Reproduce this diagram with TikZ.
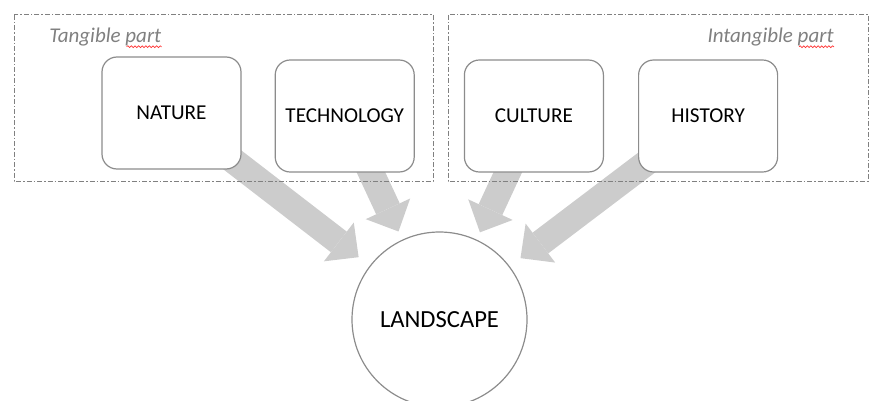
\documentclass[tikz,border=0pt]{standalone}
\usepackage{fontspec}
\setmainfont{Carlito}
\usetikzlibrary{positioning,arrows.meta,backgrounds,decorations.pathmorphing}

\tikzset{
    partbox/.style={draw=black!45, line width=0.6pt, fill=white, rounded corners=7.5pt,
        minimum width=69.5pt, minimum height=56pt, inner sep=0pt, font=\fontsize{10.6}{12}\selectfont},
    partframe/.style={draw=black!50, line width=0.5pt,
        dash pattern=on 2.5pt off 1pt on 0.75pt off 1pt},
    parttext/.style={inner sep=0pt, text=black!50, font=\fontsize{10.5}{12}\selectfont\itshape},
    bigarrow/.style={draw=black!20, line width=13pt,
        -{Triangle[length=12.5pt, width=24.5pt, line width=0pt]}},
    squiggle/.style={draw=red!80, line width=0.35pt,
        decorate, decoration={snake, amplitude=0.45pt, segment length=1.8pt}}
}

\begin{document}
\begin{tikzpicture}
    \useasboundingbox (0pt,0pt) rectangle (436pt,-200.5pt);
    % frames
    \draw[partframe] (7pt,-7.5pt) rectangle (216.5pt,-90.5pt);
    \draw[partframe] (224pt,-7.5pt) rectangle (434pt,-90.5pt);
    \node[parttext, anchor=base west] (tangible) at (24.5pt,-21.35pt) {Tangible part};
    \node[parttext, anchor=base east] (intangible) at (417pt,-21.35pt) {Intangible part};
    \draw[squiggle] ([xshift=-17.5pt, yshift=-2pt]tangible.base east) -- ([yshift=-2pt]tangible.base east);
    \draw[squiggle] ([xshift=-17.5pt, yshift=-2pt]intangible.base east) -- ([yshift=-2pt]intangible.base east);
    % boxes
    \node[partbox] (nature) at (85.75pt,-56.5pt) {NATURE};
    \node[partbox, right = 16.5pt of nature, yshift=-1.5pt] (technology) {TECHNOLOGY};
    \node[partbox, right = 24.5pt of technology] (culture) {CULTURE};
    \node[partbox, right = 17pt of culture] (history) {HISTORY};
    \node[draw=black!45, line width=0.6pt, fill=white, circle, minimum size=87.5pt, inner sep=0pt,
        font=\fontsize{12.3}{14}\selectfont] (landscape) at (219.75pt,-159.75pt) {LANDSCAPE};
    \begin{scope}[on background layer]
    \draw[bigarrow, shorten >=7pt] (nature.center) -- (landscape);
    \draw[bigarrow, shorten >=4.5pt] (technology.center) -- (landscape);
    \draw[bigarrow, shorten >=4pt] (culture.center) -- (landscape);
    \draw[bigarrow, shorten >=6.75pt] (history.center) -- (landscape);
    \end{scope}
\end{tikzpicture}
\end{document}
